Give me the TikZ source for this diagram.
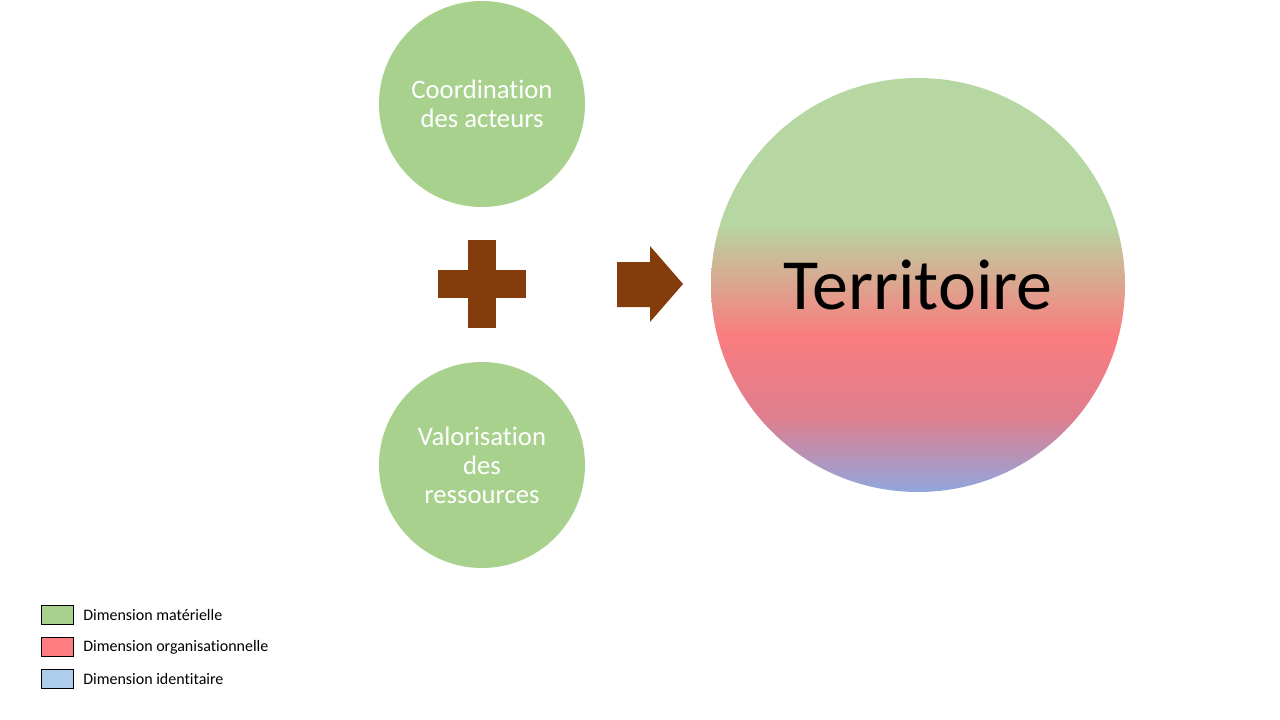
\documentclass[tikz,border=0pt]{standalone}
\usepackage{fontspec}
\setmainfont{Carlito}[Ligatures=NoCommon]
\usepackage{tikz}
\usetikzlibrary{positioning,calc}
\definecolor{leafgreen}{RGB}{169,209,142}
\definecolor{softgreen}{RGB}{182,214,162}
\definecolor{softred}{RGB}{250,125,127}
\definecolor{rosered}{RGB}{222,126,142}
\definecolor{legendred}{RGB}{255,124,128}
\definecolor{legendblue}{RGB}{174,204,236}
\definecolor{softblue}{RGB}{145,167,222}
\definecolor{rust}{RGB}{132,60,12}
\pgfdeclareverticalshading{terrshade}{100bp}{
	color(0bp)=(softblue); color(25bp)=(softblue); color(34bp)=(rosered);
	color(44bp)=(softred); color(57.5bp)=(softgreen); color(100bp)=(softgreen)}
\tikzset{
	every node/.style={font=\fontsize{12}{14}\selectfont},
	small circle/.style={circle,fill=leafgreen,minimum size=154.5pt,inner sep=0pt,text=white,align=center,
		font=\fontsize{20}{21.75}\selectfont},
	big circle/.style={circle,shading=terrshade,minimum size=310.5pt,inner sep=0pt,
		font=\fontsize{54}{60}\selectfont},
	legend box/.style={draw=black,line width=0.6pt,minimum width=24pt,minimum height=14.25pt,inner sep=0pt},
	legend text/.style={anchor=west,inner sep=0pt}
}

\begin{document}
\begin{tikzpicture}[x=0.75pt,y=-0.75pt]
	\useasboundingbox (0,0) rectangle (1280,720);
	\node[small circle] (coord) at (482,104) {Coordination\\des acteurs};
	\node[small circle] (valor) at (482,465) {Valorisation\\des\\ressources};
	\node[big circle] (terr) at (918,285) {Territoire};
	% plus sign
	\fill[rust] (468,240) rectangle (496,328);
	\fill[rust] (438,270) rectangle (526,298);
	% arrow
	\fill[rust] (617,262) -- (650,262) -- (650,246) -- (683,284) -- (650,322) -- (650,307) -- (617,307) -- cycle;
	% legend
	\node[legend box,fill=leafgreen] (lgreen) at (57,615) {};
	\node[legend box,fill=legendred] (lred) at (57,647) {};
	\node[legend box,fill=legendblue] (lblue) at (57,679) {};
	\node[legend text] (tgreen) at (83,615) {Dimension matérielle};
	\node[legend text] (tred) at (83,647) {Dimension organisationnelle};
	\node[legend text] (tblue) at (83,679) {Dimension identitaire};
\end{tikzpicture}
\end{document}
